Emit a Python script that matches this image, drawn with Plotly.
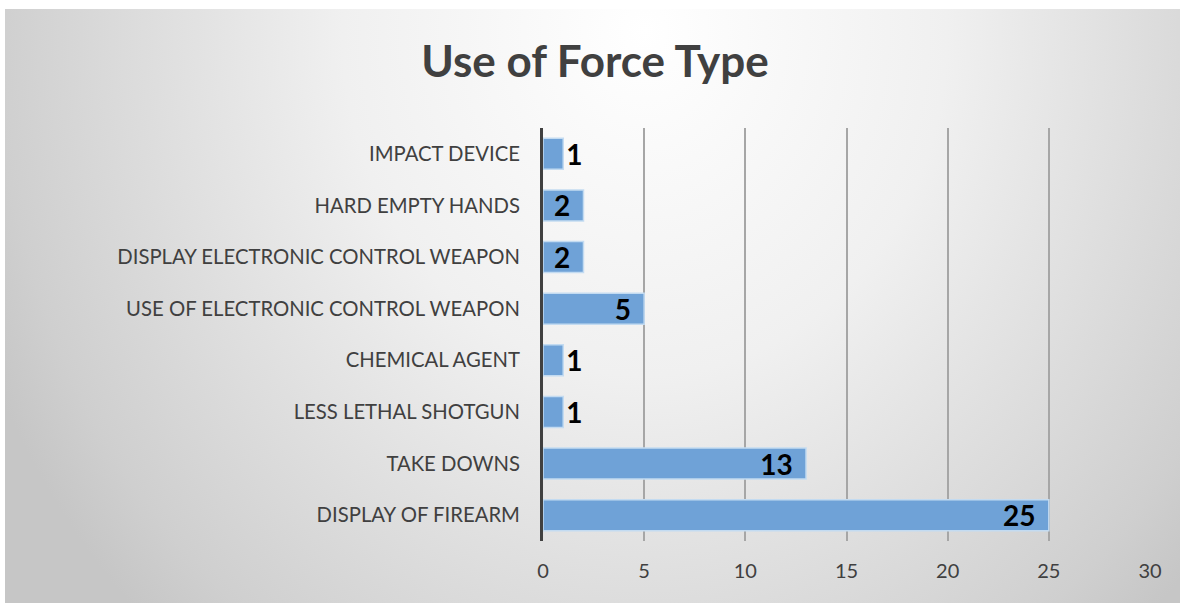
import base64
import plotly.graph_objects as go

categories = [
    "IMPACT DEVICE",
    "HARD EMPTY HANDS",
    "DISPLAY ELECTRONIC CONTROL WEAPON",
    "USE OF ELECTRONIC CONTROL WEAPON",
    "CHEMICAL AGENT",
    "LESS LETHAL SHOTGUN",
    "TAKE DOWNS",
    "DISPLAY OF FIREARM",
]
values = [1, 2, 2, 5, 1, 1, 13, 25]
x_ticks = [0, 5, 10, 15, 20, 25, 30]
title_text = "Use of Force Type"

W, H = 1180, 603
L, R, T, B = 543, 30, 128, 62
pw, ph = W - L - R, H - T - B

# radial gradient background (chart area frame)
fx0, fy0, fw, fh = 5, 9, W - 5, H - 9
svg = f'''<svg xmlns="http://www.w3.org/2000/svg" width="{fw}" height="{fh}" viewBox="0 0 {fw} {fh}" preserveAspectRatio="none">
<defs><radialGradient id="g" gradientUnits="userSpaceOnUse" cx="0" cy="0" r="1" gradientTransform="translate(640,22) scale(720,820)">
<stop offset="0" stop-color="#ffffff"/>
<stop offset="0.42" stop-color="#f0f0f0"/>
<stop offset="0.9" stop-color="#cfcfcf"/>
<stop offset="1" stop-color="#c6c6c6"/>
</radialGradient></defs>
<rect x="0" y="0" width="{fw}" height="{fh}" fill="url(#g)"/>
</svg>'''
src = "data:image/svg+xml;base64," + base64.b64encode(svg.encode()).decode()

nb = "\u00a0\u2009"
lab_font = dict(family="Lato", size=28, color="#000000", weight="bold")
fig = go.Figure(
    go.Bar(
        x=values,
        y=categories,
        orientation="h",
        text=[f"{v}{nb}" for v in values],
        textposition="auto",
        textangle=0,
        insidetextanchor="end",
        constraintext="none",
        textfont=lab_font,
        insidetextfont=lab_font,
        outsidetextfont=lab_font,
        marker=dict(color="#6fa2d7", line=dict(color="#c3dbf1", width=1.5)),
        cliponaxis=False,
        hoverinfo="skip",
    )
)

fig.update_layout(
    width=W,
    height=H,
    margin=dict(l=L, r=R, t=T, b=B, pad=0),
    paper_bgcolor="#ffffff",
    plot_bgcolor="rgba(0,0,0,0)",
    bargap=0.4,
    showlegend=False,
    title=dict(
        text=title_text,
        x=595 / W,
        xanchor="center",
        y=1 - 62 / H,
        yanchor="middle",
        font=dict(family="Lato", size=44, color="#404040", weight="bold"),
    ),
    xaxis=dict(
        range=[0, 30],
        tickvals=x_ticks,
        showgrid=True,
        gridcolor="#a6a6a6",
        gridwidth=1.5,
        zeroline=False,
        showline=False,
        ticks="",
        ticklabelstandoff=16,
        tickfont=dict(family="Lato", size=20, color="#404040"),
    ),
    yaxis=dict(
        autorange="reversed",
        showline=True,
        linecolor="#404040",
        linewidth=3,
        showgrid=False,
        zeroline=False,
        ticks="",
        ticklabelstandoff=16,
        tickfont=dict(family="Lato", size=20.3, color="#404040"),
    ),
    images=[
        dict(
            source=src,
            xref="paper",
            yref="paper",
            x=(fx0 - L) / pw,
            y=(H - B - fy0) / ph,
            sizex=fw / pw,
            sizey=fh / ph,
            xanchor="left",
            yanchor="top",
            sizing="stretch",
            layer="below",
        )
    ],
)

fig.write_html(
    "out.html",
    config={"displayModeBar": False},
    post_script="document.body.style.margin='0';document.body.style.overflow='hidden';",
)
